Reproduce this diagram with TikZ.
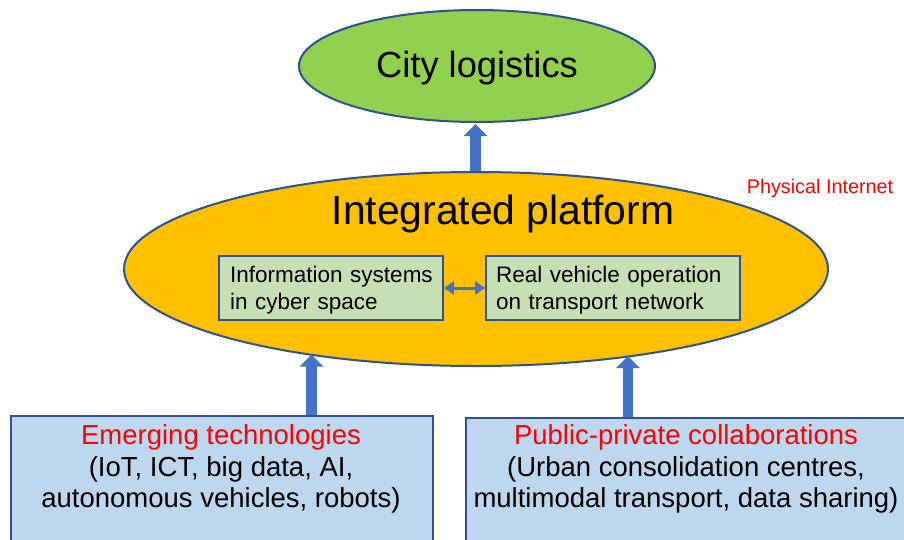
\documentclass[tikz,border=0pt]{standalone}
\usepackage{fontspec}
\setmainfont{Liberation Sans}
\usetikzlibrary{shapes.geometric,arrows.meta}
\definecolor{cgreen}{HTML}{92D050}
\definecolor{corange}{HTML}{FFC000}
\definecolor{cborder}{HTML}{2F528F}
\definecolor{cinner}{HTML}{C5E0B4}
\definecolor{cbottom}{HTML}{BDD7EE}
\definecolor{carrow}{HTML}{4472C4}
\definecolor{cred}{HTML}{FF0000}
\begin{document}
\begin{tikzpicture}[x=1pt,y=-1pt,
  ell/.style={ellipse, draw=cborder, line width=2pt, inner sep=0pt},
  innerbox/.style={draw=cborder, line width=1.8pt, fill=cinner, inner sep=0pt, minimum height=64pt},
  innertext/.style={align=left, text width=234pt, inner sep=0pt, anchor=west, font=\fontsize{22.5}{27.5}\selectfont},
  bottombox/.style={draw=cborder, line width=2pt, fill=cbottom, inner sep=0pt, anchor=north west},
  bottomtext/.style={align=center, font=\fontsize{27.5}{31.8}\selectfont},
  blockarrow/.style={draw=carrow, line width=10.5pt, -{Triangle[width=23pt,length=12pt]}},
  dblarrow/.style={draw=carrow, line width=3pt, {Triangle[width=13pt,length=10pt]}-{Triangle[width=13pt,length=10pt]}}
]
\clip (0,0) rectangle (904,539);
\fill[white] (0,0) rectangle (904,539);

% bottom boxes
\node[bottombox, minimum width=422pt, minimum height=150pt] (lbox) at (10,415) {};
\node[bottombox, minimum width=445pt, minimum height=150pt] (rbox) at (465,417) {};
\node[bottomtext] (ltext) at (221,469) {\textcolor{cred}{Emerging technologies}\\(IoT, ICT, big data, AI,\\autonomous vehicles, robots)};
\node[bottomtext] (rtext) at (686,469) {\textcolor{cred}{Public-private collaborations}\\(Urban consolidation centres,\\multimodal transport, data sharing)};

% ellipses
\node[ell, fill=cgreen, minimum width=356pt, minimum height=112pt] (cl) at (477,66) {};
\node[font=\fontsize{36.3}{40}\selectfont] (cltext) at (477,68) {City logistics};
\node[ell, fill=corange, minimum width=704pt, minimum height=194pt] (ip) at (476,269) {};
\node[font=\fontsize{40.8}{46}\selectfont] (iptext) at (503,214) {Integrated platform};

% inner boxes
\node[innerbox, minimum width=224pt] (ib1) at (331,288) {};
\node[innerbox, minimum width=254pt] (ib2) at (613,288) {};
\node[innertext] (ib1t) at (230,290) {Information systems\\in cyber space};
\node[innertext] (ib2t) at (496,290) {Real vehicle operation\\on transport network};
\draw[dblarrow] (ib1.east) -- (ib2.west);

% Physical Internet
\node[text=cred, font=\fontsize{19.8}{22}\selectfont] (pi) at (820,188) {Physical Internet};

% block arrows
\coordinate (a1s) at (311.5,415);
\coordinate (a1e) at (311.5,354.5);
\coordinate (a2s) at (628,417);
\coordinate (a2e) at (628,356);
\coordinate (a3e) at (475.5,124);
\draw[blockarrow] (a1s) -- (a1e);
\draw[blockarrow] (a2s) -- (a2e);
\draw[blockarrow] (ip.north -| a3e) -- (a3e);
\end{tikzpicture}
\end{document}
